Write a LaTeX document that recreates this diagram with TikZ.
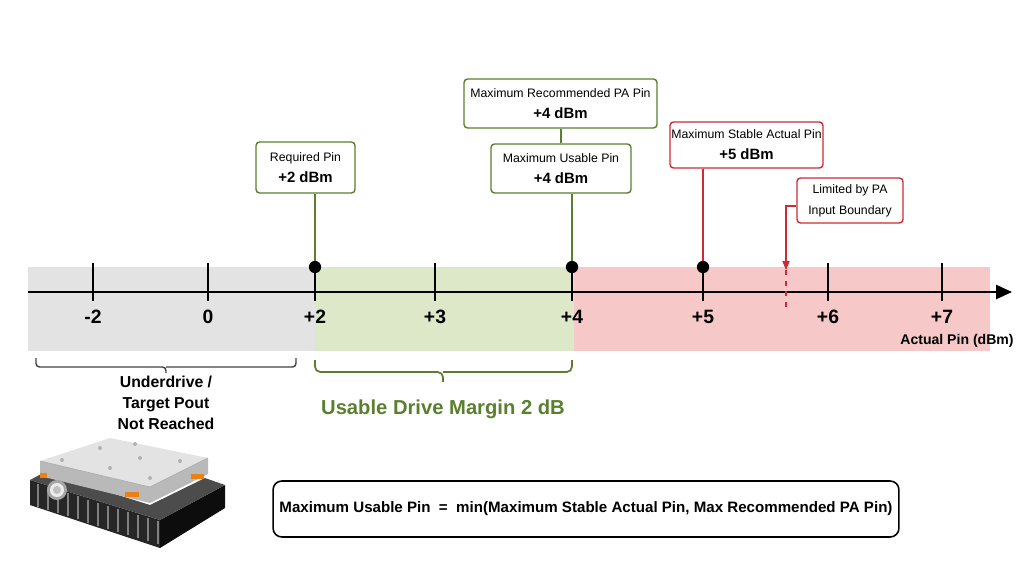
\documentclass[tikz,border=0pt]{standalone}
\usepackage{fontspec}
\setmainfont{Liberation Sans}
\usetikzlibrary{arrows.meta}
\definecolor{gfill}{HTML}{E3E3E3}
\definecolor{grfill}{HTML}{DDE8C8}
\definecolor{rfill}{HTML}{F7C8C8}
\definecolor{gline}{HTML}{5A7F2E}
\definecolor{rline}{HTML}{CC2A36}
\begin{document}
\begin{tikzpicture}[x=0.02cm,y=-0.02cm,
  gbox/.style={draw=gline,line width=0.8pt,rounded corners=2pt,fill=white,align=center,font=\fontsize{7}{12}\selectfont,inner sep=0pt},
  rbox/.style={gbox,draw=rline},
  tick/.style={line width=0.9pt},
  tlab/.style={font=\fontsize{11}{13}\selectfont\bfseries},
  dot/.style={circle,fill=black,inner sep=0pt,minimum size=7pt}]
\useasboundingbox (0,0) rectangle (1024,576);
% bands
\fill[gfill] (28,267) rectangle (315,351);
\fill[grfill] (315,267) rectangle (574,351);
\fill[rfill] (574,267) rectangle (990,351);
% axis
\coordinate (a0) at (28,292); \coordinate (a1) at (1012,292);
\draw[line width=1.1pt,-{Triangle[length=9pt,width=8pt]}] (a0) -- (a1);
\foreach \x/\l in {93/-2,208/0,315/+2,435/+3,572/+4,703/+5,828/+6,942/+7}{
  \draw[tick] (\x,263) -- (\x,301);
  \node[tlab] (t\x) at (\x,317) {\l};}
\node[font=\fontsize{8}{10}\selectfont\bfseries] (unit) at (957,341) {Actual Pin (dBm)};
% boxes
\node[gbox,minimum width=1.98cm,minimum height=1.02cm] (req) at (305.5,167.5) {Required Pin\\\fontsize{8.5}{10}\selectfont\bfseries +2 dBm};
\node[gbox,minimum width=3.86cm,minimum height=0.98cm] (rec) at (560.5,103.5) {Maximum Recommended PA Pin\\\fontsize{8.5}{10}\selectfont\bfseries +4 dBm};
\node[gbox,minimum width=2.8cm,minimum height=0.98cm] (use) at (561,168.5) {Maximum Usable Pin\\\fontsize{8.5}{10}\selectfont\bfseries +4 dBm};
\node[rbox,minimum width=3.06cm,minimum height=0.92cm] (stab) at (746.5,145) {Maximum Stable Actual Pin\\\fontsize{8.5}{10}\selectfont\bfseries +5 dBm};
\node[rbox,minimum width=2.12cm,minimum height=0.9cm] (lim) at (850,200.5) {Limited by PA\\Input Boundary};
% dots and leaders
\node[dot] (d2) at (315,267) {};
\node[dot] (d4) at (572,267) {};
\node[dot] (d5) at (703,267) {};
\draw[gline,line width=0.8pt] (req.south -| d2) -- (d2);
\draw[gline,line width=0.8pt] (use.south -| d4) -- (d4);
\draw[gline,line width=0.8pt] (rec.south -| use.north) -- (use.north);
\draw[rline,line width=0.8pt] (stab.south -| d5) -- (d5);
\coordinate (lk) at (786,206); \coordinate (la) at (786,270); \coordinate (le) at (786,312);
\draw[rline,line width=0.8pt,-{Triangle[length=5pt,width=4pt]}] (lim.west |- lk) -- (lk) -- (la);
\draw[rline,line width=0.8pt,dashed] (la) -- (le);
% brackets
\draw[line width=0.8pt,color=black!75,rounded corners=2pt] (36,358) -- (36,367) -- (166,367) -- (166,373) (166,367) -- (296,367) -- (296,358);
\node[font=\fontsize{9}{12}\selectfont\bfseries,align=center] (under) at (166,403) {Underdrive /\\Target Pout\\Not Reached};
\draw[gline,line width=1pt,rounded corners=3pt] (315,360) -- (315,372) -- (443,372) -- (443,382) (443,372) -- (572,372) -- (572,360);
\node[font=\fontsize{11.5}{13}\selectfont\bfseries,text=gline] (marg) at (443,409) {Usable Drive Margin 2 dB};
% formula
\node[draw,line width=0.9pt,rounded corners=5pt,minimum width=12.52cm,minimum height=1.12cm,inner sep=2pt,font=\fontsize{8.6}{12}\selectfont\bfseries] (form) at (586,509) {Maximum Usable Pin \ = \ min(Maximum Stable Actual Pin, Max Recommended PA Pin)};
% device picture
\begin{scope}
\fill[black!85] (30,480) -- (160,520) -- (160,548) -- (30,505) -- cycle;
\fill[black!95] (160,520) -- (225,485) -- (225,508) -- (160,548) -- cycle;
\fill[black!70] (30,480) -- (160,520) -- (225,485) -- (205,478) -- (150,505) -- (45,472) -- cycle;
\foreach \i in {0,...,12}{\draw[black!50,line width=0.9pt] (38+\i*10,484+\i*3.1) -- (38+\i*10,507+\i*3.1);}
\fill[gray!55] (40,476) -- (150,503) -- (208,474) -- (208,458) -- (150,487) -- (40,461) -- cycle;
\fill[gray!22] (40,461) -- (150,487) -- (208,458) -- (110,438) -- cycle;
\draw[gray!65] (40,461) -- (150,487) -- (208,458);
\foreach \p in {(62,460),(100,448),(140,458),(180,461),(150,478),(110,468),(135,444)}{\fill[gray!60] \p circle (2);}
\fill[gray!70] (57,490) circle (10); \fill[gray!15] (57,490) circle (7); \fill[gray!50] (57,490) circle (4);
\fill[orange!70!brown] (125,492) rectangle (139,497);
\fill[orange!70!brown] (191,474) rectangle (204,479);
\fill[orange!70!brown] (40,473) rectangle (47,478);
\end{scope}
\end{tikzpicture}
\end{document}
